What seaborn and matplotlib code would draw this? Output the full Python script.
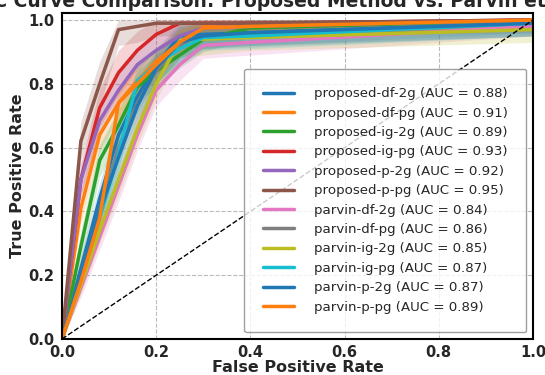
import numpy as np
import pandas as pd
import seaborn as sns
import matplotlib
matplotlib.use("Agg")
import matplotlib.pyplot as plt

# common false positive rate grid shared by every curve
fpr = [0.0, 0.04, 0.08, 0.12, 0.16, 0.2, 0.25, 0.3, 0.4, 1.0]

# mean true positive rate for each model
tpr_prop_df_2g = [0.0, 0.22, 0.44, 0.64, 0.76, 0.86, 0.95, 0.955, 0.96, 0.99]
tpr_prop_df_pg = [0.0, 0.41, 0.64, 0.74, 0.81, 0.87, 0.93, 0.98, 0.985, 1.0]
tpr_prop_ig_2g = [0.0, 0.29, 0.56, 0.67, 0.79, 0.84, 0.89, 0.94, 0.975, 1.0]
tpr_prop_ig_pg = [0.0, 0.50, 0.725, 0.835, 0.905, 0.955, 0.99, 0.99, 0.99, 1.0]
tpr_prop_p_2g = [0.0, 0.50, 0.685, 0.78, 0.86, 0.905, 0.95, 0.975, 0.98, 1.0]
tpr_prop_p_pg = [0.0, 0.62, 0.80, 0.97, 0.98, 0.99, 0.99, 0.99, 0.99, 1.0]
tpr_parv_df_2g = [0.0, 0.16, 0.32, 0.48, 0.64, 0.78, 0.86, 0.92, 0.93, 0.98]
tpr_parv_df_pg = [0.0, 0.20, 0.40, 0.60, 0.74, 0.84, 0.92, 0.95, 0.955, 0.99]
tpr_parv_ig_2g = [0.0, 0.17, 0.34, 0.50, 0.66, 0.80, 0.935, 0.94, 0.945, 0.97]
tpr_parv_ig_pg = [0.0, 0.19, 0.38, 0.58, 0.81, 0.86, 0.91, 0.945, 0.95, 0.99]
tpr_parv_p_2g = [0.0, 0.20, 0.40, 0.57, 0.73, 0.85, 0.93, 0.95, 0.96, 0.99]
tpr_parv_p_pg = [0.0, 0.18, 0.38, 0.74, 0.80, 0.86, 0.93, 0.975, 0.98, 1.0]

# spread (std) of the shaded band for each model
std_prop_df_2g = [0.0, 0.04, 0.05, 0.05, 0.05, 0.05, 0.04, 0.04, 0.04, 0.03]
std_prop_df_pg = [0.0, 0.05, 0.05, 0.05, 0.05, 0.04, 0.04, 0.03, 0.03, 0.03]
std_prop_ig_2g = [0.0, 0.05, 0.05, 0.05, 0.05, 0.05, 0.04, 0.04, 0.03, 0.03]
std_prop_ig_pg = [0.0, 0.05, 0.06, 0.07, 0.06, 0.05, 0.03, 0.03, 0.03, 0.03]
std_prop_p_2g = [0.0, 0.05, 0.05, 0.05, 0.05, 0.05, 0.04, 0.03, 0.03, 0.03]
std_prop_p_pg = [0.0, 0.06, 0.07, 0.05, 0.05, 0.04, 0.04, 0.04, 0.04, 0.04]
std_parv_df_2g = [0.0, 0.03, 0.04, 0.05, 0.05, 0.05, 0.05, 0.04, 0.04, 0.03]
std_parv_df_pg = [0.0, 0.03, 0.04, 0.05, 0.05, 0.05, 0.05, 0.04, 0.04, 0.04]
std_parv_ig_2g = [0.0, 0.03, 0.04, 0.05, 0.05, 0.05, 0.05, 0.05, 0.04, 0.04]
std_parv_ig_pg = [0.0, 0.03, 0.04, 0.05, 0.05, 0.05, 0.05, 0.04, 0.04, 0.04]
std_parv_p_2g = [0.0, 0.03, 0.04, 0.05, 0.05, 0.05, 0.05, 0.04, 0.04, 0.04]
std_parv_p_pg = [0.0, 0.03, 0.04, 0.05, 0.05, 0.05, 0.04, 0.04, 0.03, 0.03]

names = ["proposed-df-2g", "proposed-df-pg", "proposed-ig-2g", "proposed-ig-pg",
         "proposed-p-2g", "proposed-p-pg", "parvin-df-2g", "parvin-df-pg",
         "parvin-ig-2g", "parvin-ig-pg", "parvin-p-2g", "parvin-p-pg"]
aucs = [0.88, 0.91, 0.89, 0.93, 0.92, 0.95, 0.84, 0.86, 0.85, 0.87, 0.87, 0.89]

tprs = [tpr_prop_df_2g, tpr_prop_df_pg, tpr_prop_ig_2g, tpr_prop_ig_pg,
        tpr_prop_p_2g, tpr_prop_p_pg, tpr_parv_df_2g, tpr_parv_df_pg,
        tpr_parv_ig_2g, tpr_parv_ig_pg, tpr_parv_p_2g, tpr_parv_p_pg]
stds = [std_prop_df_2g, std_prop_df_pg, std_prop_ig_2g, std_prop_ig_pg,
        std_prop_p_2g, std_prop_p_pg, std_parv_df_2g, std_parv_df_pg,
        std_parv_ig_2g, std_parv_ig_pg, std_parv_p_2g, std_parv_p_pg]

# long table for seaborn
rows = []
for name, auc, tpr in zip(names, aucs, tprs):
    label = f"{name} (AUC = {auc:.2f})"
    for x, y in zip(fpr, tpr):
        rows.append({"fpr": x, "tpr": y, "model": label})
df = pd.DataFrame(rows)

sns.set_style("white")
colors = sns.color_palette("tab10", 10)
palette = [colors[i % 10] for i in range(len(names))]
labels = [f"{n} (AUC = {a:.2f})" for n, a in zip(names, aucs)]

fig = plt.figure(figsize=(5.45, 3.75), dpi=100)
ax = fig.add_axes([62 / 545, 36 / 375, 471 / 545, 326 / 375])

# shaded bands first
for tpr, std, c in zip(tprs, stds, palette):
    t = np.array(tpr)
    s = np.array(std)
    ax.fill_between(fpr, np.clip(t - s, 0, 1), np.clip(t + s, 0, 1), color=c, alpha=0.2, linewidth=0)

sns.lineplot(data=df, x="fpr", y="tpr", hue="model", hue_order=labels,
             palette=palette, linewidth=2.5, sort=False, estimator=None, ax=ax)

ax.plot([0, 1], [0, 1], "k--", linewidth=1)

ax.set_xlim(0.0, 1.0)
ax.set_ylim(0.0, 1.022)
ax.grid(True, linestyle="--", color="#bbbbbb", linewidth=0.8)
for s in ax.spines.values():
    s.set_color("black")
    s.set_linewidth(1.5)
ax.set_xticks([0.0, 0.2, 0.4, 0.6, 0.8, 1.0])
ax.set_yticks([0.0, 0.2, 0.4, 0.6, 0.8, 1.0])
ax.tick_params(axis="x", labelsize=10.5, pad=0.5)
ax.tick_params(axis="y", labelsize=10.5, pad=2)
for lab in ax.get_xticklabels() + ax.get_yticklabels():
    lab.set_fontweight("bold")
ax.set_xlabel("False Positive Rate", fontsize=11.5, fontweight="bold", labelpad=0)
ax.set_ylabel("True Positive Rate", fontsize=11.5, fontweight="bold", labelpad=2)

leg = ax.legend(loc="lower right", fontsize=9.6, borderpad=1.4, labelspacing=0.48,
                handlelength=2.3, handletextpad=1.5, frameon=True, edgecolor="#888888")
leg.get_frame().set_linewidth(1.0)
for h in leg.get_lines():
    h.set_linewidth(2.5)

fig.text(0.497, 1 - 7 / 375, "ROC Curve Comparison: Proposed Method vs. Parvin et al.",
         ha="center", va="baseline", fontsize=13.5, fontweight="bold")

fig.savefig("out.png", dpi=100)
